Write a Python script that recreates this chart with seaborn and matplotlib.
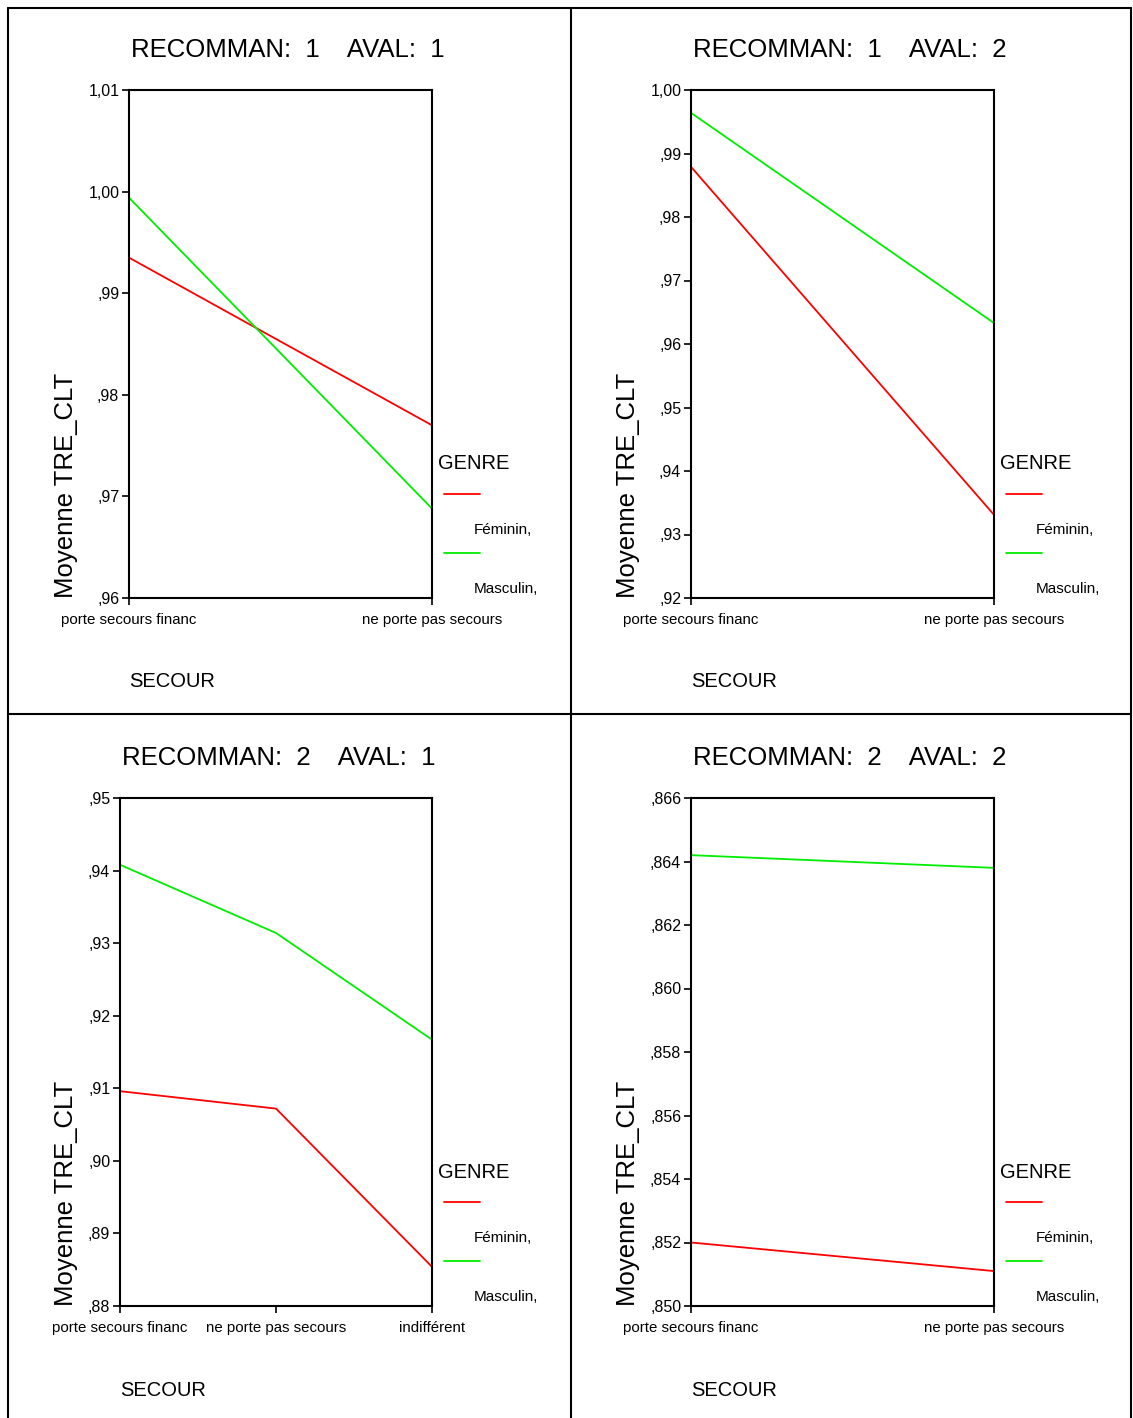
import pandas as pd
import numpy as np
import matplotlib
matplotlib.use('Agg')
import matplotlib.pyplot as plt
import seaborn as sns
from matplotlib.lines import Line2D

# ─── Data ─────────────────────────────────────────────────────────────────────
secour_2 = ["porte secours financ", "ne porte pas secours"]
secour_3 = ["porte secours financ", "ne porte pas secours", "indifférent"]
genres = ["Féminin,", "Masculin,"]

# RECOMMAN 1 / AVAL 1
fem_11  = [0.9935, 0.9770]
masc_11 = [0.9994, 0.9688]
# RECOMMAN 1 / AVAL 2
fem_12  = [0.9879, 0.9331]
masc_12 = [0.9964, 0.9633]
# RECOMMAN 2 / AVAL 1
fem_21  = [0.9096, 0.9072, 0.8854]
masc_21 = [0.9408, 0.9314, 0.9167]
# RECOMMAN 2 / AVAL 2
fem_22  = [0.8520, 0.8511]
masc_22 = [0.8642, 0.8638]

yticks_11 = [0.96, 0.97, 0.98, 0.99, 1.00, 1.01]
yticks_12 = [0.92, 0.93, 0.94, 0.95, 0.96, 0.97, 0.98, 0.99, 1.00]
yticks_21 = [0.88, 0.89, 0.90, 0.91, 0.92, 0.93, 0.94, 0.95]
yticks_22 = [0.850, 0.852, 0.854, 0.856, 0.858, 0.860, 0.862, 0.864, 0.866]

palette = {"Féminin,": "#FF0000", "Masculin,": "#00EE00"}

# ─── Style ────────────────────────────────────────────────────────────────────
sns.set_style("white")
plt.rcParams['font.family'] = ["Liberation Sans", "DejaVu Sans"]
plt.rcParams['text.color'] = "black"
plt.rcParams['xtick.color'] = "black"
plt.rcParams['ytick.color'] = "black"

W, H = 1133, 1418
fig = plt.figure(figsize=(W / 100, H / 100), dpi=100)


def fmt(v, nd):
    s = f"{v:.{nd}f}".replace(".", ",")
    if s.startswith("0"):
        s = s[1:]
    return s


def panel(left, top, right, bottom, label_x, recom, aval, cats, fem, masc, yticks, nd):
    ax = fig.add_axes([left / W, 1 - bottom / H, (right - left) / W, (bottom - top) / H])
    df = pd.DataFrame({
        "SECOUR": cats * 2,
        "TRE_CLT": fem + masc,
        "GENRE": [genres[0]] * len(cats) + [genres[1]] * len(cats),
    })
    sns.lineplot(data=df, x="SECOUR", y="TRE_CLT", hue="GENRE", palette=palette,
                 sort=False, linewidth=1.3, legend=False, ax=ax)
    ax.set_xlim(0, len(cats) - 1)
    ax.set_ylim(yticks[0], yticks[-1])
    ax.set_yticks(yticks)
    ax.set_yticklabels([fmt(v, nd) for v in yticks], fontsize=11.5)
    ax.set_xticks(range(len(cats)))
    ax.set_xticklabels(cats, fontsize=10.8)
    ax.tick_params(axis="both", direction="out", length=5, width=1.2, color="black",
                   left=True, bottom=True)
    ax.tick_params(axis="x", pad=6)
    ax.tick_params(axis="y", pad=2)
    for sp in ax.spines.values():
        sp.set_color("black")
        sp.set_linewidth(1.5)
    ax.set_xlabel("")
    ax.set_ylabel("")

    # y label, title, x label
    fig.text(label_x / W, 1 - bottom / H, "Moyenne TRE_CLT", fontsize=18.5, rotation=90,
             ha="center", va="bottom")
    fig.text((left + 2) / W, 1 - (top - 40) / H,
             f"RECOMMAN:  {recom}    AVAL:  {aval}", fontsize=18.5,
             ha="left", va="center")
    fig.text(left / W, 1 - (bottom + 84) / H, "SECOUR", fontsize=14.5,
             ha="left", va="center")

    # legend
    fig.text((right + 6) / W, 1 - (bottom - 134) / H, "GENRE", fontsize=14.5,
             ha="left", va="center")
    for i, g in enumerate(genres):
        ly = bottom - 104 + i * 59
        fig.add_artist(Line2D([(right + 12) / W, (right + 48) / W], [1 - ly / H, 1 - ly / H],
                              color=palette[g], linewidth=1.3))
        fig.text((right + 42) / W, 1 - (ly + 36) / H, g, fontsize=11,
                 ha="left", va="center")
    return ax


panel(129, 90, 432, 598, 66, 1, 1, secour_2, fem_11, masc_11, yticks_11, 2)
panel(691, 90, 994, 598, 628, 1, 2, secour_2, fem_12, masc_12, yticks_12, 2)
panel(120, 798, 432, 1306, 66, 2, 1, secour_3, fem_21, masc_21, yticks_21, 2)
panel(691, 798, 994, 1306, 628, 2, 2, secour_2, fem_22, masc_22, yticks_22, 3)

# ─── Frame lines ──────────────────────────────────────────────────────────────
for x in (8, 571, 1131):
    fig.add_artist(Line2D([x / W, x / W], [1 - 8 / H, 0], color="black", linewidth=1.5))
for y in (8, 714):
    fig.add_artist(Line2D([8 / W, 1131 / W], [1 - y / H, 1 - y / H], color="black", linewidth=1.5))

fig.savefig("out.png", dpi=100)
